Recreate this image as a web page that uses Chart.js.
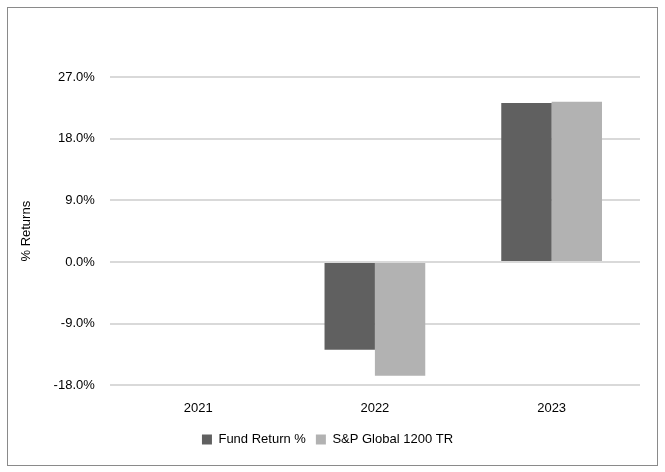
<!DOCTYPE html>
<html>
<head>
<meta charset="utf-8">
<script src="https://cdn.jsdelivr.net/npm/chart.js@4.4.1/dist/chart.umd.min.js"></script>
<style>
  body { margin: 0; background: #fff; }
  #wrap { position: relative; width: 665px; height: 472px; }
</style>
</head>
<body>
<div id="wrap"><canvas id="myChart" width="665" height="472"></canvas></div>
<script>
const years = ['2021', '2022', '2023'];
const fundReturns = [null, -12.8, 23.2];
const benchmarkReturns = [null, -16.6, 23.4];
const yTicks = [-18, -9, 0, 9, 18, 27];

const frame = {
  id: 'frame',
  afterDraw(chart) {
    const ctx = chart.ctx;
    ctx.save();
    ctx.strokeStyle = '#8a8a8a';
    ctx.lineWidth = 1;
    ctx.strokeRect(7.5, 7.5, 650, 458);
    ctx.restore();
  }
};

const ctx = document.getElementById('myChart').getContext('2d');
new Chart(ctx, {
  type: 'bar',
  data: {
    labels: years,
    datasets: [{
      label: 'Fund Return %',
      data: fundReturns,
      backgroundColor: '#606060'
    }, {
      label: 'S&P Global 1200 TR',
      data: benchmarkReturns,
      backgroundColor: '#b2b2b2'
    }]
  },
  options: {
    responsive: false,
    animation: false,
    layout: { padding: { left: 15, right: 25, top: 77, bottom: 16 } },
    datasets: { bar: { barPercentage: 1, categoryPercentage: 0.57 } },
    plugins: {
      legend: {
        position: 'bottom',
        labels: {
          boxWidth: 10, boxHeight: 10, padding: 10,
          color: '#000',
          font: { family: 'Liberation Sans', size: 13 }
        }
      },
      tooltip: { enabled: false }
    },
    scales: {
      x: {
        grid: { display: false },
        border: { display: false },
        ticks: { color: '#000', padding: 7, font: { family: 'Liberation Sans', size: 13 } }
      },
      y: {
        min: yTicks[0],
        max: yTicks[yTicks.length - 1],
        afterBuildTicks(axis) { axis.ticks = yTicks.map(v => ({ value: v })); },
        grid: { color: '#d9d9d9', lineWidth: 2, drawTicks: false },
        border: { display: false },
        ticks: {
          color: '#000', padding: 15,
          font: { family: 'Liberation Sans', size: 13 },
          callback: v => v.toFixed(1) + '%'
        },
        title: {
          display: true, text: '% Returns', color: '#000',
          font: { family: 'Liberation Sans', size: 13 }, padding: 4
        }
      }
    }
  },
  plugins: [frame]
});
</script>
</body>
</html>
